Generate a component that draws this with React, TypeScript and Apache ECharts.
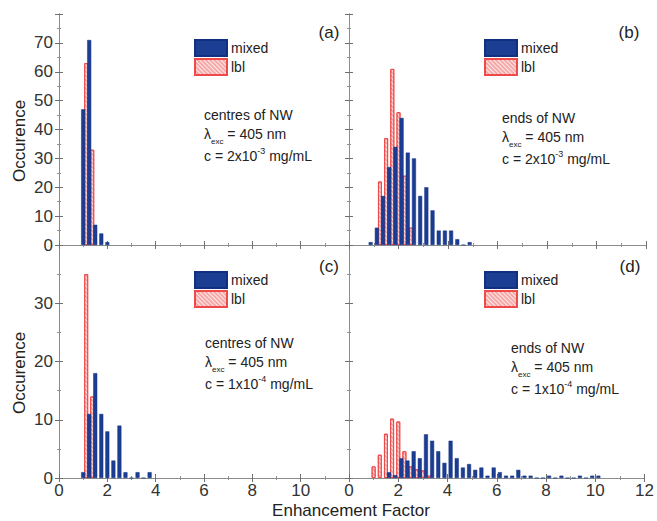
import React, { useEffect, useRef } from "react";
import * as echarts from "echarts";

const BIN = 0.25;
// panel (a)
const mixedAStart = 1.0;
const mixedA = [47, 71, 7, 4, 1];
const lblAStart = 1.125;
const lblA = [63, 33];
// panel (b)
const mixedBStart = 0.875;
const mixedB = [1, 6, 17, 27, 34, 44, 32, 30, 17, 20, 12, 5, 5, 5, 2, 0, 1];
const lblBStart = 1.25;
const lblB = [22, 37, 61, 46, 24, 6];
// panel (c)
const mixedCStart = 1.0;
const mixedC = [1, 11, 18, 11, 8, 3, 9, 1, 0, 1, 0, 1];
const lblCStart = 1.125;
const lblC = [35, 14];
// panel (d)
const mixedDStart = 1.625;
const mixedD = [1, 0.5, 3.4, 3, 4.6, 3.4, 7.5, 6.4, 4.6, 2.6, 6.4, 3.4, 1.8, 2.4, 1.4, 1.8, 0.4, 1.8, 1, 0.4, 0.4, 1.4, 0.4, 0.4, 0, 0, 0.4, 0, 0.4, 0, 0, 0.4, 0, 0.4, 0.4];
const lblDStart = 1.0;
const lblD = [2, 4, 7.6, 10.2, 9.7, 4.6, 2, 1.5, 1.3, 0.4];

const yMaxTop = 80;
const yMaxBottom = 40;
const panelLabels = ["(a)", "(b)", "(c)", "(d)"];
const panelTitles = ["centres of NW", "ends of NW", "centres of NW", "ends of NW"];
const concExp = ["-3", "-3", "-4", "-4"];
const concMant = ["2", "2", "1", "1"];

const FONT = "'Liberation Sans', Arial, sans-serif";
const BLUE = "#1b3d92";
const RED = "#ef4a4a";

const toPairs = (start: number, vals: number[]) =>
  vals.map((v, i) => [start + i * BIN, v]);

export default function App() {
  const ref = useRef<HTMLDivElement>(null);
  useEffect(() => {
    if (!ref.current) return;
    const chart = echarts.init(ref.current, null, { renderer: "svg" });

    const grids = [
      { left: 59, top: 14, width: 290, height: 231 },
      { left: 349, top: 14, width: 297, height: 231 },
      { left: 59, top: 245, width: 290, height: 233 },
      { left: 349, top: 245, width: 297, height: 233 },
    ];

    const axisLine = { show: true, lineStyle: { color: "#8c8c8c", width: 1 } };
    const tick = { show: true, inside: true, length: 4, lineStyle: { color: "#707070" } };
    const minor = { show: true, splitNumber: 2, length: 2, lineStyle: { color: "#909090" } };

    const xAxes: any[] = [];
    const yAxes: any[] = [];
    grids.forEach((g, i) => {
      const bottomRow = i >= 2;
      xAxes.push({
        type: "value", gridIndex: i, position: "bottom", min: 0, max: 12, interval: 2,
        axisLine, axisTick: tick, minorTick: minor, splitLine: { show: false },
        axisLabel: {
          show: bottomRow, showMaxLabel: i === 3, fontSize: 17, color: "#333",
          margin: 4, fontFamily: FONT,
        },
      });
      xAxes.push({
        type: "value", gridIndex: i, position: "top", min: 0, max: 12, interval: 2,
        axisLine, axisTick: tick, minorTick: minor, splitLine: { show: false },
        axisLabel: { show: false },
      });
      const ymax = bottomRow ? yMaxBottom : yMaxTop;
      yAxes.push({
        type: "value", gridIndex: i, position: "left", min: 0, max: ymax, interval: 10,
        axisLine, axisTick: tick, minorTick: minor, splitLine: { show: false },
        axisLabel: {
          show: i % 2 === 0, showMaxLabel: false, fontSize: 17, color: "#333",
          margin: 6, fontFamily: FONT,
        },
      });
      yAxes.push({
        type: "value", gridIndex: i, position: "right", min: 0, max: ymax, interval: 10,
        axisLine, axisTick: tick, minorTick: minor, splitLine: { show: false },
        axisLabel: { show: false },
      });
    });

    const panels = [
      { m: toPairs(mixedAStart, mixedA), l: toPairs(lblAStart, lblA) },
      { m: toPairs(mixedBStart, mixedB), l: toPairs(lblBStart, lblB) },
      { m: toPairs(mixedCStart, mixedC), l: toPairs(lblCStart, lblC) },
      { m: toPairs(mixedDStart, mixedD), l: toPairs(lblDStart, lblD) },
    ];

    const redDecal = {
      symbol: "rect",
      symbolSize: 1,
      color: "rgba(255,255,255,0.75)",
      dashArrayX: [1, 0],
      dashArrayY: [1, 2],
      rotation: Math.PI / 4,
    };

    const series: any[] = [];
    panels.forEach((p, i) => {
      series.push({
        name: "mixed", type: "bar", xAxisIndex: i * 2, yAxisIndex: i * 2,
        data: p.m, barWidth: 4, barGap: "-100%", z: 3,
        itemStyle: { color: BLUE, borderColor: "#123080", borderWidth: 0.5 },
      });
      series.push({
        name: "lbl", type: "bar", xAxisIndex: i * 2, yAxisIndex: i * 2,
        data: p.l, barWidth: 4, barGap: "-100%", z: 2,
        itemStyle: { color: "#f6a8a8", borderColor: RED, borderWidth: 1, decal: redDecal },
      });
    });

    const legendPos = [
      { left: 194, top: 39 },
      { left: 484, top: 39 },
      { left: 194, top: 271 },
      { left: 484, top: 271 },
    ];
    const legends = legendPos.map((p) => ({
      ...p, orient: "vertical", padding: 0, itemGap: 1, itemWidth: 32, itemHeight: 16,
      icon: "rect", data: ["mixed", "lbl"], selectedMode: false,
      textStyle: { fontSize: 14, color: "#222", fontFamily: FONT, padding: [0, 0, 0, -1] },
    }));

    const annot = [
      { x: 204, y: 115 },
      { x: 502, y: 118 },
      { x: 205, y: 343 },
      { x: 511, y: 348 },
    ];
    const labelPos = [
      { x: 329, y: 32 },
      { x: 629, y: 32 },
      { x: 329, y: 266 },
      { x: 630, y: 266 },
    ];

    const textStyle = { fontSize: 14, fill: "#222", fontFamily: FONT };
    const graphics: any[] = [];
    annot.forEach((a, i) => {
      graphics.push({
        type: "text", x: a.x, y: a.y,
        style: { ...textStyle, text: panelTitles[i], verticalAlign: "middle" },
      });
      graphics.push({
        type: "text", x: a.x, y: a.y + 19,
        style: {
          ...textStyle, verticalAlign: "middle",
          text: "λ{sub|exc} = 405 nm",
          rich: {
            sub: { fontSize: 8, fill: "#222", fontFamily: FONT, padding: [14, 0, 0, 0] },
          },
        },
      });
      graphics.push({
        type: "text", x: a.x, y: a.y + 41,
        style: {
          ...textStyle, verticalAlign: "middle",
          text: "c = " + concMant[i] + "x10{sup|" + concExp[i] + "} mg/mL",
          rich: {
            sup: { fontSize: 9, fill: "#222", fontFamily: FONT, padding: [0, 0, 10, 0] },
          },
        },
      });
      graphics.push({
        type: "text", x: labelPos[i].x, y: labelPos[i].y,
        style: { fontSize: 17, fill: "#222", fontFamily: FONT, text: panelLabels[i], align: "center", verticalAlign: "middle" },
      });
    });
    graphics.push({
      type: "text", x: 19, y: 141, rotation: Math.PI / 2,
      style: { fontSize: 17, fill: "#222", fontFamily: FONT, text: "Occurence", align: "center", verticalAlign: "middle" },
    });
    graphics.push({
      type: "text", x: 19, y: 373, rotation: Math.PI / 2,
      style: { fontSize: 17, fill: "#222", fontFamily: FONT, text: "Occurence", align: "center", verticalAlign: "middle" },
    });
    graphics.push({
      type: "text", x: 351, y: 510,
      style: { fontSize: 17, fill: "#222", fontFamily: FONT, text: "Enhancement Factor", align: "center", verticalAlign: "middle" },
    });

    chart.setOption({
      animation: false,
      backgroundColor: "#ffffff",
      grid: grids,
      xAxis: xAxes,
      yAxis: yAxes,
      legend: legends,
      series,
      graphic: graphics,
    });
    return () => chart.dispose();
  }, []);

  return (
    <div
      ref={ref}
      style={{ position: "fixed", left: 0, top: 0, width: 657, height: 521 }}
    />
  );
}
